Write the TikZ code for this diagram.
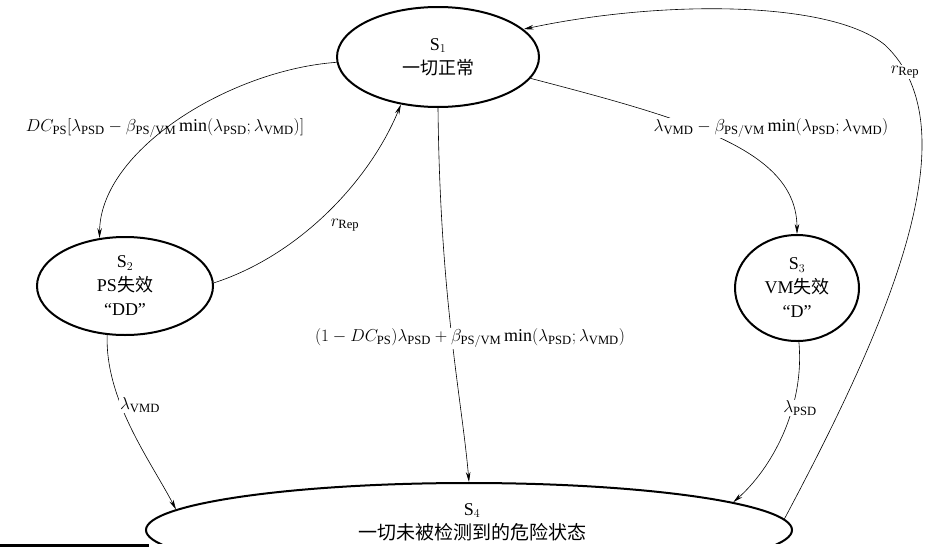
\documentclass[tikz,border=0pt]{standalone}
\usepackage{fontspec}
\setmainfont{Liberation Serif}
\newfontfamily\cjk{Noto Sans CJK SC}
\usetikzlibrary{shapes.geometric,arrows.meta}
\begin{document}
\begin{tikzpicture}[x=1pt,y=-1pt,
  state/.style={ellipse,draw,line width=2pt,inner sep=0pt,align=center,font=\fontsize{18}{24}\selectfont},
  conn/.style={line width=0.6pt,-{Stealth[length=10pt,width=4.5pt]}},
  lbl/.style={font=\fontsize{18}{20}\selectfont,inner sep=1pt},
  wlbl/.style={lbl,fill=white}]
\useasboundingbox (0,0) rectangle (933,549);
% states
\node[state,minimum width=202pt,minimum height=100pt] (s1) at (438,57) {S$_1$\\{\cjk 一切正常}};
\node[state,minimum width=176pt,minimum height=98pt] (s2) at (125,286) {S$_2$\\PS{\cjk 失效}\\“DD”};
\node[state,minimum width=124pt,minimum height=106pt] (s3) at (797,288) {S$_3$\\VM{\cjk 失效}\\“D”};
\begin{scope}
  \clip (0,0) rectangle (933,543);
  \node[state,minimum width=646pt,minimum height=94pt] (s4) at (469,530) {};
\end{scope}
\node[align=center,font=\fontsize{18}{24}\selectfont,inner sep=0pt] (s4t) at (472,522) {S$_4$\\{\cjk\fontsize{19}{24}\selectfont 一切未被检测到的危险状态}};
\fill (0,544) rectangle (149,547);
% connectors
\draw[conn] (s1.183) .. controls (230,70) and (100,150) .. (s2.118);
\draw[conn] (s2.2) .. controls (300,255) and (370,180) .. (s1.232);
\draw[conn] (s1.south) .. controls (440,300) and (462,400) .. (s4.90);
\draw[conn] (s1.-13) .. controls (690,120) and (797,150) .. (s3.north);
\draw[conn] (s4.2) .. controls (885,330) and (975,130) .. (885,45) .. controls (830,0) and (660,0) .. (s1.18);
\draw[conn] (s2.250) .. controls (105,400) and (150,460) .. (s4.176);
\draw[conn] (s3.272) .. controls (805,410) and (770,470) .. (s4.6);
% labels
\node[lbl] (l1) at (165,128) {$DC_{\mathrm{PS}}[\lambda_{\mathrm{PSD}}-\beta_{\mathrm{PS/VM}}\min(\lambda_{\mathrm{PSD}};\lambda_{\mathrm{VMD}})]$};
\node[wlbl] (l2) at (345,225) {$r_{\mathrm{Rep}}$};
\node[wlbl] (l3) at (470,338) {$(1-DC_{\mathrm{PS}})\lambda_{\mathrm{PSD}}+\beta_{\mathrm{PS/VM}}\min(\lambda_{\mathrm{PSD}};\lambda_{\mathrm{VMD}})$};
\node[wlbl] (l4) at (771,128) {$\lambda_{\mathrm{VMD}}-\beta_{\mathrm{PS/VM}}\min(\lambda_{\mathrm{PSD}};\lambda_{\mathrm{VMD}})$};
\node[wlbl] (l5) at (905,72) {$r_{\mathrm{Rep}}$};
\node[wlbl] (l6) at (140,405) {$\lambda_{\mathrm{VMD}}$};
\node[wlbl] (l7) at (800,408) {$\lambda_{\mathrm{PSD}}$};
\end{tikzpicture}
\end{document}
